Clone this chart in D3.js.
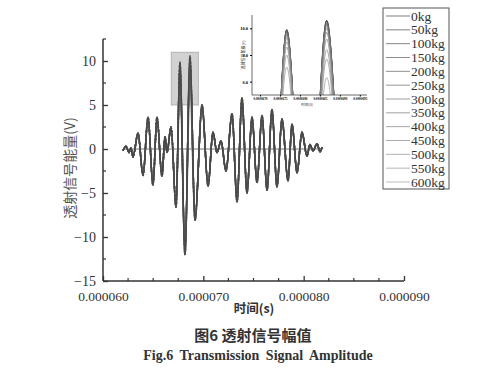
<!DOCTYPE html>
<html><head><meta charset="utf-8">
<script src="https://cdn.jsdelivr.net/npm/d3@7/dist/d3.min.js"></script>
<style>body{margin:0;background:#fff}svg{display:block}</style>
</head><body>
<svg id="c" width="500" height="369"></svg>
<script>
// ---- data ----
const loads = ["0kg","50kg","100kg","150kg","200kg","250kg","300kg","350kg","400kg","450kg","500kg","550kg","600kg"];
// extremum times of the received waveform, microseconds
const timeMicros = [61.99,62.29,62.59,62.79,62.99,63.49,63.99,64.49,64.98,65.38,65.88,66.18,66.38,66.78,67.28,67.67,68.17,68.67,69.17,69.87,70.47,70.96,71.36,71.76,72.26,72.86,73.36,73.85,74.35,74.85,75.35,75.85,76.35,76.84,77.34,77.84,78.44,78.84,79.34,79.83,80.33,80.63,80.93,81.33,81.63,81.83];
// shared amplitude at those times (V)
const amplitude = [-0.2,0.3,-0.4,0.1,-0.9,1.8,-3.0,3.6,-4.1,3.6,-3.1,1.4,-0.4,2.5,-6.6,9.9,-12.0,10.6,-8.1,5.0,-4.2,1.9,-0.4,0.9,-2.5,4.0,-6.0,5.8,-5.0,3.6,-3.8,3.8,-4.7,4.5,-4.3,3.4,-3.6,2.8,-2.7,1.9,-0.8,0.5,-0.2,0.6,-0.3,0.2];
// the two main peaks differ per load
const peakA = [9.9,9.9,9.85,9.8,9.8,9.7,9.6,9.5,9.3,9.0,8.6,8.0,7.1];
const peakB = [10.6,10.6,10.55,10.5,10.4,10.3,10.2,10.0,9.7,9.2,8.4,7.7,6.3];
const peakAIndex = 15, peakBIndex = 17;
const yTicks = [-15,-10,-5,0,5,10];
const xTicks = [6e-5,7e-5,8e-5,9e-5];
const xTickLabels = ["0.000060","0.000070","0.000080","0.000090"];
const insetYTicks = [6,8,10];
const insetXTicks = [6.70e-5,6.75e-5,6.80e-5,6.85e-5,6.90e-5,6.95e-5];
const insetXTickLabels = ["0.0000670","0.0000675","0.0000680","0.0000685","0.0000690","0.0000695"];
const zoomBox = {t0:6.68e-5, t1:6.95e-5, v0:5, v1:11};

const series = loads.map((name,i)=>({name, values: timeMicros.map((t,j)=>({
  t: t*1e-6,
  v: j===peakAIndex ? peakA[i] : j===peakBIndex ? peakB[i] : amplitude[j]
}))}));

const svg = d3.select("#c");
const serif = "'Liberation Serif','Times New Roman',serif";
const cjk = "'Noto Sans CJK SC','Noto Sans',sans-serif";
const ink = "#333";

const x = d3.scaleLinear().domain([6e-5, 9e-5]).range([103, 404]);
const y = d3.scaleLinear().domain([-15, 12.5]).range([281, 39]);

// highlight rectangle
svg.append("rect")
  .attr("x", x(zoomBox.t0)).attr("y", y(zoomBox.v1))
  .attr("width", x(zoomBox.t1)-x(zoomBox.t0)).attr("height", y(zoomBox.v0)-y(zoomBox.v1))
  .attr("fill","#d2d2d2").attr("stroke","#a8a8a8").attr("stroke-width",0.8);

// zero baseline
svg.append("line")
  .attr("x1", x(timeMicros[0]*1e-6)).attr("x2", x(timeMicros[timeMicros.length-1]*1e-6))
  .attr("y1", y(0)).attr("y2", y(0)).attr("stroke","#666").attr("stroke-width",0.9);

const grays = d3.scaleLinear().domain([0, loads.length-1]).range(["#454545","#a0a0a0"]);
const line = d3.line().x(d=>x(d.t)).y(d=>y(d.v)).curve(d3.curveMonotoneX);
svg.append("g").selectAll("path").data(series.slice().reverse()).join("path")
  .attr("d", d=>line(d.values)).attr("fill","none")
  .attr("stroke", d=>grays(loads.indexOf(d.name)))
  .attr("stroke-width", 1.5).attr("stroke-opacity",0.75).attr("stroke-dasharray",(d,i)=> i%2 ? "3,1" : null);

// axes
const yAxis = d3.axisLeft(y).tickValues(yTicks).tickSize(-5).tickPadding(7)
  .tickFormat(d=> d<0 ? "\u2212"+Math.abs(d) : d);
const gy = svg.append("g").attr("transform",`translate(${x.range()[0]},0)`).call(yAxis);
gy.selectAll(".tick line").attr("stroke",ink).attr("stroke-width",1.3);
gy.selectAll("text").attr("font-family",serif).attr("font-size",14).attr("fill",ink);
gy.select(".domain").attr("stroke",ink).attr("stroke-width",1.5).attr("d",`M0,${y.range()[1]}V${y.range()[0]}`);
const yMinor = d3.range(-12.5, 12.6, 5);
gy.selectAll(".minor").data(yMinor).join("line").attr("class","minor")
  .attr("x1",0).attr("x2",3).attr("y1",d=>y(d)).attr("y2",d=>y(d)).attr("stroke",ink).attr("stroke-width",1.2);

const xAxis = d3.axisBottom(x).tickValues(xTicks).tickSize(-5).tickPadding(10)
  .tickFormat((d,i)=>xTickLabels[i]);
const gx = svg.append("g").attr("transform",`translate(0,${y.range()[0]})`).call(xAxis);
gx.selectAll(".tick line").attr("stroke",ink).attr("stroke-width",1.3);
gx.selectAll("text").attr("font-family",serif).attr("font-size",13.5).attr("fill",ink);
gx.select(".domain").attr("stroke",ink).attr("stroke-width",1.5).attr("d",`M${x.range()[0]},0H${x.range()[1]}`);
const xMinor = d3.range(6.25e-5, 9e-5, 2.5e-6).filter(v=>Math.abs((v/1e-5)-Math.round(v/1e-5))>1e-6);
gx.selectAll(".minor").data(xMinor).join("line").attr("class","minor")
  .attr("x1",d=>x(d)).attr("x2",d=>x(d)).attr("y1",0).attr("y2",-3).attr("stroke",ink).attr("stroke-width",1.2);

// axis titles
svg.append("text").attr("transform","translate(75,168) rotate(-90)").attr("text-anchor","middle")
  .attr("font-family",cjk).attr("font-size",14).attr("fill","#555").text("透射信号能量(V)");
svg.append("text").attr("x",254).attr("y",313).attr("text-anchor","middle")
  .attr("font-family",cjk).attr("font-size",12.5).attr("font-weight","bold").attr("fill",ink).text("时间(s)");

// captions
svg.append("text").attr("x",253).attr("y",341).attr("text-anchor","middle")
  .attr("font-family",cjk).attr("font-size",15).attr("font-weight","bold").attr("fill",ink).text("图6 透射信号幅值");
svg.append("text").attr("x",258).attr("y",360).attr("text-anchor","middle")
  .attr("font-family",serif).attr("font-size",14).attr("font-weight","bold").attr("word-spacing",3).attr("fill",ink)
  .text("Fig.6 Transmission Signal Amplitude");

// legend
const lg = svg.append("g");
lg.append("rect").attr("x",383).attr("y",8).attr("width",66).attr("height",181)
  .attr("fill","#fff").attr("stroke","#555").attr("stroke-width",1);
const row = d3.scaleLinear().domain([0, loads.length-1]).range([16, 182]);
loads.forEach((name,i)=>{
  lg.append("line").attr("x1",386).attr("x2",410).attr("y1",row(i)).attr("y2",row(i))
    .attr("stroke",grays(i)).attr("stroke-opacity",0.7).attr("stroke-width",1);
  lg.append("text").attr("x",411).attr("y",row(i)+4.5).attr("font-family",serif)
    .attr("font-size",13.5).attr("fill",ink).text(name);
});

// inset zoom chart
const ix = d3.scaleLinear().domain([zoomBox.t0, 6.968e-5]).range([252, 367]);
const iy = d3.scaleLinear().domain([zoomBox.v0, zoomBox.v1]).range([95, 15]);
const ins = svg.append("g");
svg.append("defs").append("clipPath").attr("id","ic").append("rect")
  .attr("x",252).attr("y",12).attr("width",115).attr("height",83);
const iline = d3.line().x(d=>ix(d.t)).y(d=>iy(d.v)).curve(d3.curveMonotoneX);
ins.append("g").attr("clip-path","url(#ic)").selectAll("path").data(series).join("path")
  .attr("d", d=>iline(d.values)).attr("fill","none")
  .attr("stroke",(d,i)=>grays(i)).attr("stroke-width",0.8);
const iyAxis = d3.axisLeft(iy).tickValues(insetYTicks).tickSize(2).tickPadding(2);
const giy = ins.append("g").attr("transform","translate(252,0)").call(iyAxis);
giy.select(".domain").attr("d","M0,15V95").attr("stroke","#444").attr("stroke-width",0.8);
giy.selectAll("text").attr("font-size",4.5).attr("font-family",serif).attr("font-weight","bold");
const ixAxis = d3.axisBottom(ix).tickValues(insetXTicks).tickSize(1.5).tickPadding(1)
  .tickFormat((d,i)=>insetXTickLabels[i]);
const gix = ins.append("g").attr("transform","translate(0,95)").call(ixAxis);
gix.select(".domain").attr("d","M252,0H367").attr("stroke","#444").attr("stroke-width",0.8);
gix.selectAll("text").attr("font-size",3.3).attr("font-family",serif).attr("font-weight","bold");
ins.append("text").attr("x",307).attr("y",106).attr("text-anchor","middle")
  .attr("font-family",cjk).attr("font-size",3.8).attr("fill","#333").text("时间(s)");
ins.append("text").attr("transform","translate(245,55) rotate(-90)").attr("text-anchor","middle")
  .attr("font-family",cjk).attr("font-size",4).attr("fill","#333").text("透射信号能量(V)");
</script>
</body></html>
